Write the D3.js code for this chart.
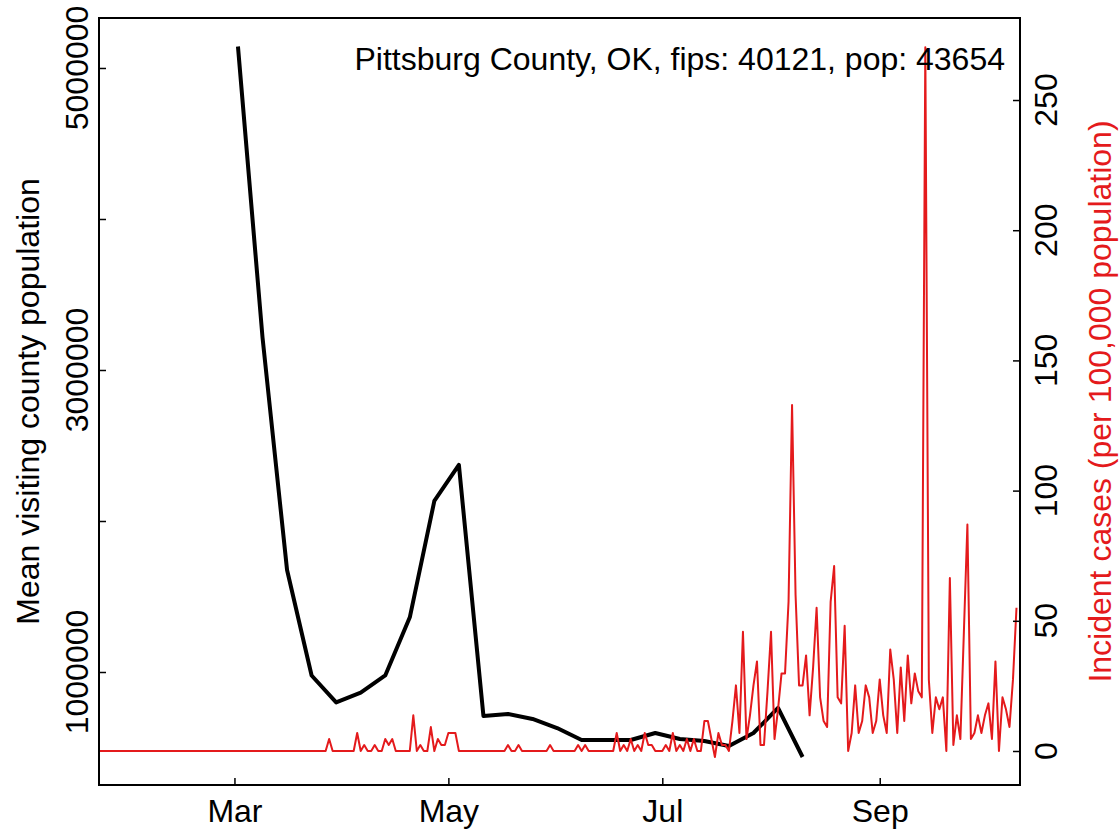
<!DOCTYPE html>
<html>
<head>
<meta charset="utf-8">
<script src="https://cdn.jsdelivr.net/npm/d3@7"></script>
<style>
  body { margin: 0; background: #fff; }
  svg text { font-family: "Liberation Sans", Arial, sans-serif; }
</style>
</head>
<body>
<div id="chart"></div>
<script>
//***************** data *******************/
// weekly mean visiting county population (black line)
var weekDates = ["2020-03-02","2020-03-09","2020-03-16","2020-03-23","2020-03-30","2020-04-06",
  "2020-04-13","2020-04-20","2020-04-27","2020-05-04","2020-05-11","2020-05-18","2020-05-25",
  "2020-06-01","2020-06-08","2020-06-15","2020-06-22","2020-06-29","2020-07-06","2020-07-13",
  "2020-07-20","2020-07-27","2020-08-03","2020-08-10"];
var visitPop = [5142000, 3216000, 1675000, 977000, 799000, 864000, 977000, 1362000, 2133000, 2371000,
  709000, 722000, 689000, 629000, 550000, 550000, 550000, 596000, 556000, 543000,
  510000, 596000, 762000, 437000];

// daily incident cases per 100,000 (red line), first day 2020-01-22
var caseStart = "2020-01-22";
var incCases = [
  // Jan 22-31
  0,0,0,0,0,0,0,0,0,0,
  // Feb
  0,0,0,0,0,0,0,0,0,0, 0,0,0,0,0,0,0,0,0,0, 0,0,0,0,0,0,0,0,0,
  // Mar
  0,0,0,0,0,0,0,0,0,0, 0,0,0,0,0,0,0,0,0,0, 0,0,0,0,0,0,0,4.6,0,0, 0,
  // Apr
  0,0,0,0,6.9,0,2.3,0,0,2.3, 0,0,4.6,2.3,4.6,0,0,0,0,0, 13.7,0,2.3,0,0,9.2,0,4.6,2.3,2.3,
  // May
  6.9,6.9,6.9,0,0,0,0,0,0,0, 0,0,0,0,0,0,0,2.3,0,0, 2.3,0,0,0,0,0,0,0,0,2.3, 0,
  // Jun
  0,0,0,0,0,0,2.3,0,2.3,0, 0,0,0,0,0,0,0,6.9,0,2.3, 0,4.6,0,2.3,0,6.9,2.3,2.3,0,0,
  // Jul
  0,2.3,0,6.9,0,2.3,0,4.6,0,4.6, 0,0,11.5,11.5,4.6,-2.3,6.9,2.3,2.3,0,
  11.5,25.2,6.9,45.8,4.6,13.7,25.2,34.4,2.3,2.3, 22.9,
  // Aug
  45.8,4.6,16,29.8,29.8,57.3,132.9,60,25.2,25.2, 36.7,13.7,32,55,20.6,11.5,9.2,57.3,71,20.6,
  18.3,48.1,0,6.9,25.2,6.9,11.5,25.2,20.6,6.9, 11.5,
  // Sep
  27.5,13.7,6.9,39,27.5,6.9,32.1,11.5,36.7,18.3, 29.8,22.9,20.6,270.3,27.5,6.9,20.6,16,20.6,0,
  66.4,2.3,13.7,4.6,45.8,87,4.6,6.9,13.7,6.9,
  // Oct 1-10
  13.7,18.3,4.6,34.4,0,20.6,16,9.2,27.5,55
];

// axis ticks
var monthTicks = ["2020-03-01","2020-05-01","2020-07-01","2020-09-01"];
var leftTicks = [1000000, 2000000, 3000000, 4000000, 5000000];
var leftLabels = [1000000, 3000000, 5000000];
var rightTicks = [0, 50, 100, 150, 200, 250];

var title = "Pittsburg County, OK, fips: 40121, pop: 43654";

//************* set dimensions ***************/
var W = 1119, H = 829;
var box = {left: 99, right: 1020, top: 18, bottom: 785};
var parseDate = d3.utcParse("%Y-%m-%d");

var black = weekDates.map(function(d, i) { return {date: parseDate(d), value: visitPop[i]}; });
var start = parseDate(caseStart);
var red = incCases.map(function(v, i) { return {date: d3.utcDay.offset(start, i), value: v}; });

//************** setup svg  *****************/
var svg = d3.select("#chart").append("svg")
  .attr("width", W)
  .attr("height", H);

//***************** scales *******************/
var x = d3.scaleUtc()
  .domain([new Date(Date.UTC(2020, 0, 22, 9)), new Date(Date.UTC(2020, 9, 11))])
  .range([box.left, box.right]);

var yL = d3.scaleLinear()
  .domain([251700, 5331000])
  .range([box.bottom, box.top]);

var yR = d3.scaleLinear()
  .domain([-13.06, 281.5])
  .range([box.bottom, box.top]);

svg.append("clipPath").attr("id", "clip")
  .append("rect")
    .attr("x", box.left).attr("y", box.top)
    .attr("width", box.right - box.left).attr("height", box.bottom - box.top);

//***************** lines *******************/
var lineL = d3.line()
  .x(function(d) { return x(d.date); })
  .y(function(d) { return yL(d.value); });
var lineR = d3.line()
  .x(function(d) { return x(d.date); })
  .y(function(d) { return yR(d.value); });

svg.append("path")
  .datum(black)
  .attr("clip-path", "url(#clip)")
  .attr("fill", "none")
  .attr("stroke", "#000")
  .attr("stroke-width", 4)
  .attr("stroke-linejoin", "round")
  .attr("d", lineL);

svg.append("path")
  .datum(red)
  .attr("clip-path", "url(#clip)")
  .attr("fill", "none")
  .attr("stroke", "#e41a1c")
  .attr("stroke-width", 2)
  .attr("stroke-linejoin", "round")
  .attr("d", lineR);

//***************** axes *******************/
// x axis, ticks point inward
var xAxis = svg.append("g")
  .attr("transform", "translate(0," + box.bottom + ")")
  .call(d3.axisBottom(x)
    .tickValues(monthTicks.map(parseDate))
    .tickSizeInner(-7).tickSizeOuter(0)
    .tickPadding(14)
    .tickFormat(d3.utcFormat("%b")));
xAxis.select(".domain").remove();
xAxis.selectAll("line").attr("stroke-width", 1.5);
xAxis.selectAll("text").attr("font-size", "32px").attr("fill", "#000");

// left axis
var lAxis = svg.append("g")
  .attr("transform", "translate(" + box.left + ",0)")
  .call(d3.axisLeft(yL).tickValues(leftTicks).tickSizeInner(-7).tickSizeOuter(0).tickFormat(""));
lAxis.select(".domain").remove();
lAxis.selectAll("line").attr("stroke-width", 1.5);
svg.selectAll(".lLab")
  .data(leftLabels)
  .enter().append("text")
    .attr("class", "lLab")
    .attr("transform", function(d) { return "translate(88," + yL(d) + ") rotate(-90)"; })
    .attr("text-anchor", "middle")
    .attr("font-size", "32px")
    .text(function(d) { return d; });

// right axis
var rAxis = svg.append("g")
  .attr("transform", "translate(" + box.right + ",0)")
  .call(d3.axisRight(yR).tickValues(rightTicks).tickSizeInner(-7).tickSizeOuter(0).tickFormat(""));
rAxis.select(".domain").remove();
rAxis.selectAll("line").attr("stroke-width", 1.5);
svg.selectAll(".rLab")
  .data(rightTicks)
  .enter().append("text")
    .attr("class", "rLab")
    .attr("transform", function(d) { return "translate(1057," + yR(d) + ") rotate(-90)"; })
    .attr("text-anchor", "middle")
    .attr("font-size", "32px")
    .text(function(d) { return d; });

// frame
svg.append("rect")
  .attr("x", box.left).attr("y", box.top)
  .attr("width", box.right - box.left).attr("height", box.bottom - box.top)
  .attr("fill", "none")
  .attr("stroke", "#000")
  .attr("stroke-width", 2);

//***************** labels *******************/
var midY = (box.top + box.bottom) / 2;
svg.append("text")
  .attr("transform", "translate(39," + midY + ") rotate(-90)")
  .attr("text-anchor", "middle")
  .attr("font-size", "32px")
  .text("Mean visiting county population");

svg.append("text")
  .attr("transform", "translate(1111," + midY + ") rotate(-90)")
  .attr("text-anchor", "middle")
  .attr("font-size", "32px")
  .attr("fill", "#e41a1c")
  .text("Incident cases (per 100,000 population)");

svg.append("text")
  .attr("x", 1005)
  .attr("y", 70)
  .attr("text-anchor", "end")
  .attr("font-size", "32px")
  .text(title);
</script>
</body>
</html>
